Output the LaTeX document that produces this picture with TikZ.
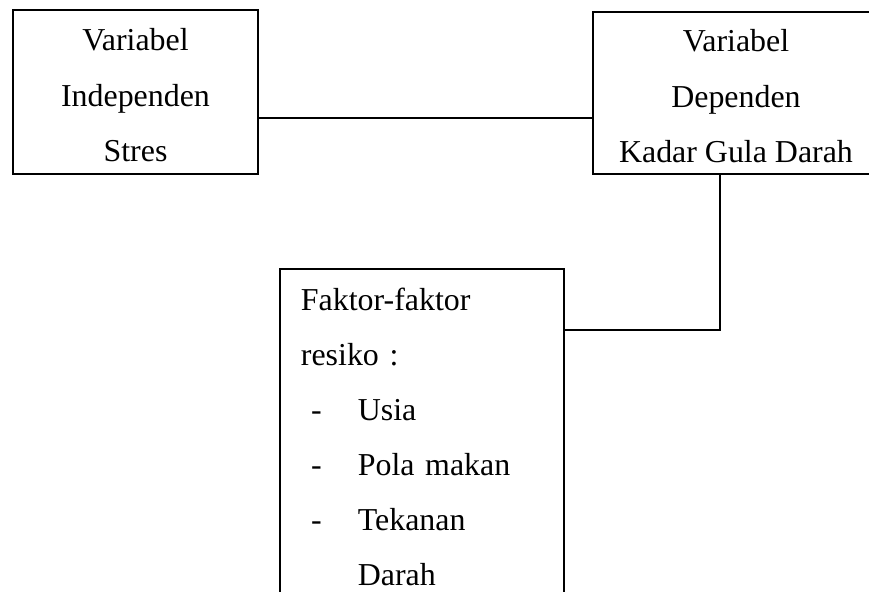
\documentclass[tikz,border=0pt]{standalone}
\usepackage{fontspec}
\setmainfont{Liberation Serif}
\usetikzlibrary{calc}

\newcommand{\riskitem}[1]{\hspace*{3.8pt}\makebox[17.6pt][l]{-}#1}
\newcommand{\topstrut}{\rule{0pt}{10.8pt}}

\begin{document}
\begin{tikzpicture}[
  x=0.376pt,
  y=-0.376pt,
  varbox/.style={
    draw,
    line width=.7pt,
    inner sep=0pt,
    align=center,
    font=\fontsize{12}{20.8}\selectfont
  },
  riskbox/.style={
    draw,
    line width=.7pt,
    anchor=north west,
    inner xsep=7.9pt,
    inner ysep=7.2pt,
    text width=91pt,
    align=left,
    font=\fontsize{12}{20.7}\selectfont
  },
  link/.style={line width=.7pt}
]
  \useasboundingbox (0,0) rectangle (869,592);
  \clip (0,0) rectangle (869,592);

  % Variables: independent and dependent.
  \node[varbox,minimum width=92.1pt,minimum height=61.7pt] (indep)
    at (135.5,92) {\topstrut Variabel\\Independen\\Stres};
  \node[varbox,minimum width=107.5pt,minimum height=60.9pt] (dep)
    at (736,93) {\topstrut Variabel\\Dependen\\Kadar Gula Darah};

  % Risk factors, box runs past the lower edge.
  \node[riskbox] (risk) at (279,268) {Faktor-faktor\\
    resiko :\\
    \riskitem{Usia}\\
    \riskitem{Pola makan}\\
    \riskitem{Tekanan}\\
    \hspace*{21.4pt}Darah};

  % Connectors.
  \coordinate (tie) at (0,118);
  \coordinate (elbow) at (720,330);
  \draw[link] (indep.east |- tie) -- (dep.west |- tie);
  \draw[link] (dep.south -| elbow) -- (elbow) -- (risk.east |- elbow);
\end{tikzpicture}
\end{document}
